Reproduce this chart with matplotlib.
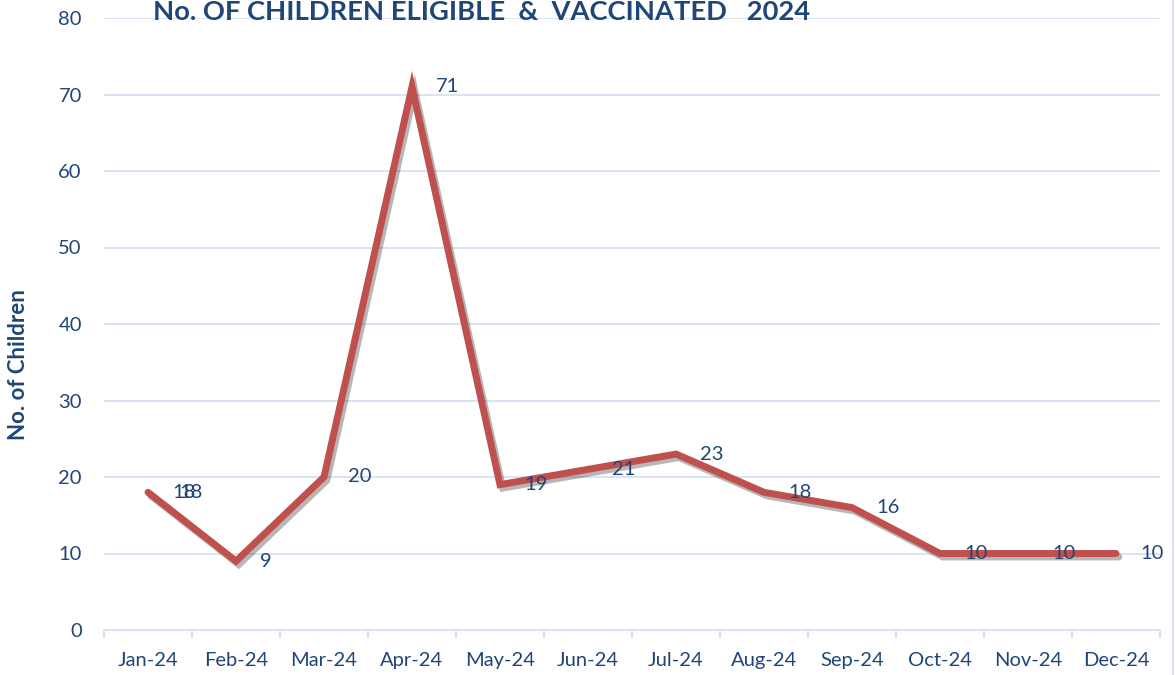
import matplotlib
matplotlib.use("Agg")
import matplotlib.pyplot as plt
import matplotlib.patheffects as pe
from matplotlib.lines import Line2D

months = ["Jan-24", "Feb-24", "Mar-24", "Apr-24", "May-24", "Jun-24",
          "Jul-24", "Aug-24", "Sep-24", "Oct-24", "Nov-24", "Dec-24"]
eligible = [18, 9, 20, 71, 19, 21, 23, 18, 16, 10, 10, 10]
vaccinated = [18, 9, 20, 71, 19, 21, 23, 18, 16, 10, 10, 10]
yticks = [0, 10, 20, 30, 40, 50, 60, 70, 80]

FONT = ["Lato", "DejaVu Sans"]
TXT = "#1F4677"
GRID = "#D5E1F2"
LINE = "#C0504D"

fig = plt.figure(figsize=(11.75, 6.75), dpi=100)
ax = fig.add_axes([104/1175, 1-630/675, (1160-104)/1175, (630-18)/675])

x = list(range(len(months)))
shadow = [pe.SimpleLineShadow(offset=(2, -2.5), shadow_color="#444444", alpha=0.38),
          pe.Normal()]
ax.plot(x, eligible, color=LINE, lw=5, solid_capstyle="round",
        solid_joinstyle="miter", path_effects=shadow, zorder=3)

for i, v in enumerate(eligible):
    ax.annotate(str(v), (i, v), xytext=(24, 0), textcoords="offset pixels",
                ha="left", va="center", fontsize=14.5, color=TXT, family=FONT, zorder=4)
# second series label: only visibly offset in the source at Jan
ax.annotate(str(vaccinated[0]), (0, vaccinated[0]), xytext=(31, 0), textcoords="offset pixels",
            ha="left", va="center", fontsize=14.5, color=TXT, family=FONT, zorder=4)

ax.set_xlim(-0.5, len(months) - 0.5)
ax.set_ylim(0, 80)
ax.set_yticks(yticks)
ax.set_yticklabels([str(t) for t in yticks], fontsize=14.5, color=TXT, family=FONT)
ax.set_xticks(x)
ax.set_xticklabels(months, fontsize=14.5, color=TXT, family=FONT)
ax.set_xticks([i - 0.5 for i in range(len(months) + 1)], minor=True)
ax.tick_params(axis="x", which="major", length=0, pad=15.5)
ax.tick_params(axis="x", which="minor", length=6, color=GRID, width=1.3)
ax.tick_params(axis="y", length=0, pad=16)

ax.grid(axis="y", color=GRID, lw=1.3, zorder=0)
for s in ["left", "right", "top"]:
    ax.spines[s].set_visible(False)
ax.spines["bottom"].set_color(GRID)
ax.spines["bottom"].set_linewidth(1.3)
ax.set_axisbelow(True)

fig.add_artist(Line2D([1172.5/1175, 1172.5/1175], [0, 1], transform=fig.transFigure,
                      color=GRID, lw=1.5))

fig.text(19/1175, 1-365/675, "No. of Children", rotation=90, ha="center", va="center",
         fontsize=16, fontweight="bold", color=TXT, family=FONT)
fig.text(482/1175, 1-12/675, "No. OF CHILDREN ELIGIBLE  &  VACCINATED   2024",
         ha="center", va="center", fontsize=19.7, fontweight="bold", color=TXT, family=FONT)

fig.savefig("out.png", dpi=100)
